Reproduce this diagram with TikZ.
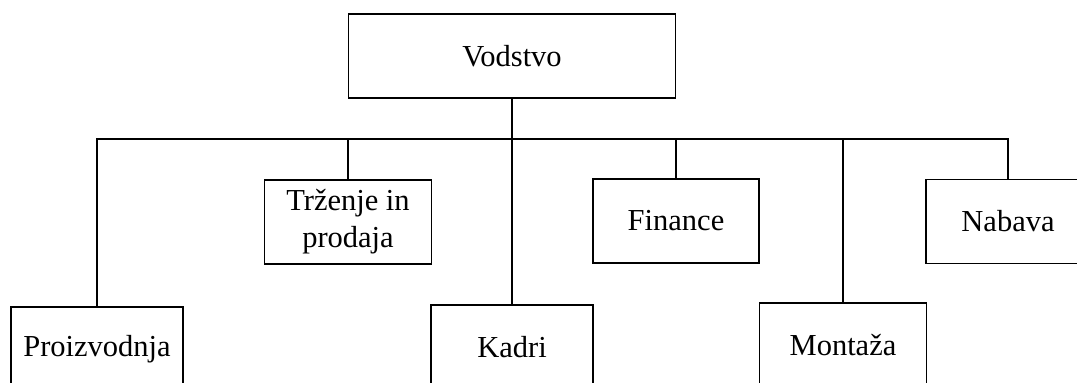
\documentclass[tikz,border=0pt]{standalone}
\usepackage{fontspec}
\setmainfont{Liberation Serif}
\begin{document}
\begin{tikzpicture}[x=1pt,y=-1pt,
  box/.style={draw, line width=1.4pt, minimum height=84pt, inner sep=0pt,
    align=center, font=\fontsize{30.5}{37}\selectfont},
  conn/.style={line width=1.2pt}]
\useasboundingbox (0,0) rectangle (1077,383);
\clip (0,0) rectangle (1077,383);
\node[box, minimum width=327pt] (top) at (512,56) {Vodstvo};
\node[box, minimum width=167pt] (trz) at (348,222) {Tr\v{z}enje in\\prodaja};
\node[box, minimum width=166pt] (fin) at (676,221) {Finance};
\node[box, minimum width=164pt] (nab) at (1008,221.5) {Nabava};
\node[box, minimum width=172pt] (prz) at (97,349) {Proizvodnja};
\node[box, minimum width=162pt] (kad) at (512,347) {Kadri};
\node[box, minimum width=167pt] (mon) at (843,345) {Monta\v{z}a};
\coordinate (bus) at (512,139);
\draw[conn] (top.south) -- (kad.north);
\draw[conn] (prz.north) -- (prz.north |- bus) -- (nab.north |- bus) -- (nab.north);
\draw[conn] (trz.north) -- (trz.north |- bus);
\draw[conn] (fin.north) -- (fin.north |- bus);
\draw[conn] (mon.north) -- (mon.north |- bus);
\end{tikzpicture}
\end{document}
